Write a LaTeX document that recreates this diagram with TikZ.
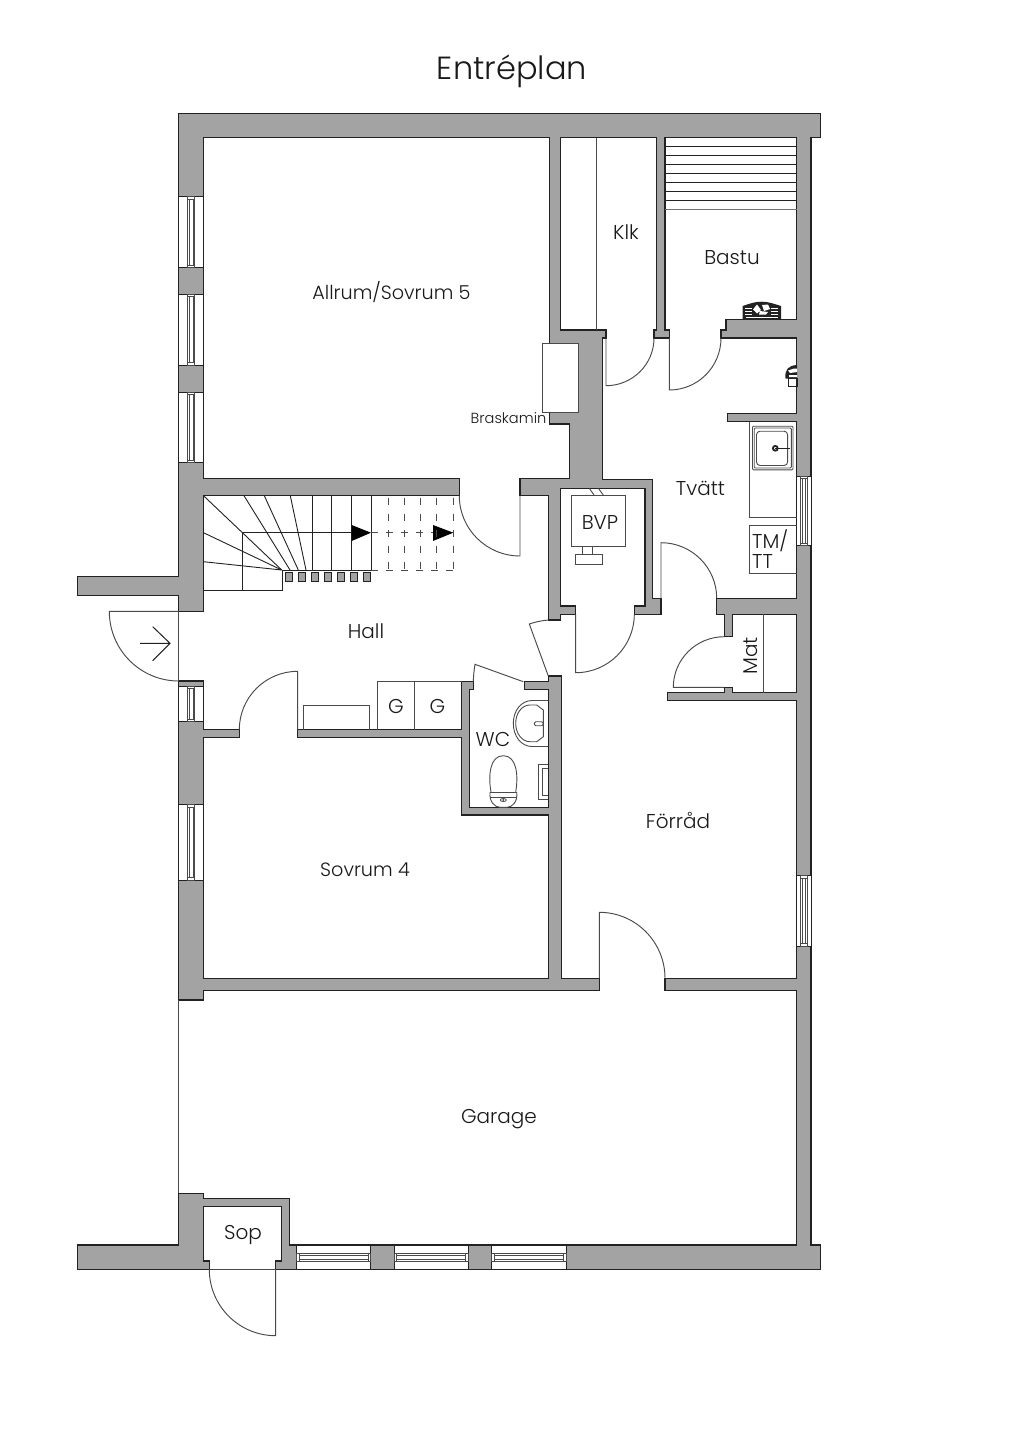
\documentclass[tikz,border=0pt]{standalone}
\usepackage{fontspec}
\setmainfont{Poppins}[UprightFont=* Light]
\usetikzlibrary{calc}
\definecolor{wallc}{HTML}{A3A3A3}
\definecolor{inkc}{HTML}{222222}
\definecolor{thinc}{HTML}{4A4A4A}
\newcommand{\doorswing}[6]{\draw[doorline] (#1,#2) -- (#3,#4) .. controls ({#3+0.5523*(#5-#1)},{#4+0.5523*(#6-#2)}) and ({#5+0.5523*(#3-#1)},{#6+0.5523*(#4-#2)}) .. (#5,#6);}
\newcommand{\winV}[3]{\begin{scope}[shift={(#1,0)}]
\draw[winframe] (0,#2) rectangle (24.8,#3);
\draw[winglass] (8.7,#2) rectangle (16.1,#3);
\draw[winglass] (10.6,{#2+2.5}) rectangle (14.2,{#3-2.5});
\draw[winglass] (8.7,{#2+2.5}) -- (16.1,{#2+2.5}) (8.7,{#3-2.5}) -- (16.1,{#3-2.5});
\end{scope}}
\newcommand{\winR}[2]{\begin{scope}[shift={(796.7,0)}]
\draw[winframe] (0,#1) rectangle (14.3,#2);
\draw[winglass] (3.3,#1) rectangle (11,#2);
\draw[winglass] (5.2,{#1+2.5}) rectangle (9.1,{#2-2.5});
\draw[winglass] (3.3,{#1+2.5}) -- (11,{#1+2.5}) (3.3,{#2-2.5}) -- (11,{#2-2.5});
\end{scope}}
\newcommand{\winH}[2]{\begin{scope}[shift={(0,1245)}]
\draw[winframe] (#1,0) rectangle (#2,24.3);
\draw[winglass] (#1,8.3) rectangle (#2,16);
\draw[winglass] ({#1+2.5},10.2) rectangle ({#2-2.5},14.1);
\draw[winglass] ({#1+2.5},8.3) -- ({#1+2.5},16) ({#2-2.5},8.3) -- ({#2-2.5},16);
\end{scope}}
\tikzset{
  wallshape/.style={fill=wallc,draw=inkc,line width=1.1pt,line join=miter},
  doorline/.style={draw=thinc,line width=0.95pt},
  fixture/.style={draw=thinc,line width=0.9pt},
  winframe/.style={draw=inkc,line width=0.9pt,fill=white},
  winglass/.style={draw=thinc,line width=0.7pt},
  stairline/.style={draw=inkc,line width=0.9pt},
  stairdash/.style={draw=thinc,line width=0.9pt,dash pattern=on 7pt off 8pt},
  stairdashv/.style={draw=thinc,line width=0.9pt,dash pattern=on 7pt off 9pt},
  lbl/.style={font=\fontsize{20}{22}\selectfont,text=black!90,inner sep=0pt},
  lbltm/.style={font=\fontsize{20}{20}\selectfont,text=black!90,inner sep=0pt},
  lblw/.style={font=\fontsize{19.2}{22}\selectfont,text=black!90,inner sep=0pt},
  lbls/.style={font=\fontsize{14.6}{17}\selectfont,text=black!90,inner sep=0pt},
  lbltitle/.style={font=\fontsize{32}{36}\selectfont,text=black!90,inner sep=0pt},
}
\begin{document}
\begin{tikzpicture}[x=1pt,y=-1pt]
\useasboundingbox (0,0) rectangle (1024,1448);
\fill[white] (0,0) rectangle (1024,1448);

% main wall mass (top, right, Allrum, centre, stub)
\draw[wallshape] (178.7,113.3) -- (820.7,113.3) -- (820.7,137.7) -- (811,137.7) -- (811,1245) -- (820.7,1245) -- (820.7,1269.3)
 -- (275.7,1269.3) -- (275.7,1261) -- (281.7,1261) -- (281.7,1206.7) -- (203.3,1206.7) -- (203.3,1261) -- (209.3,1261) -- (209.3,1269.3)
 -- (77.3,1269.3) -- (77.3,1245) -- (178.7,1245) -- (178.7,1193.3) -- (203.3,1193.3) -- (203.3,1198.7) -- (289.3,1198.7) -- (289.3,1245)
 -- (796.7,1245) -- (796.7,990.7) -- (665,990.7) -- (665,978.3) -- (796.7,978.3)
 -- (796.7,700.7) -- (667.3,700.7) -- (667.3,692.7) -- (724.3,692.7) -- (724.3,687.3) -- (732.3,687.3) -- (732.3,692.7) -- (796.7,692.7)
 -- (796.7,614.3) -- (732.3,614.3) -- (732.3,636.7) -- (724.3,636.7) -- (724.3,614.3) -- (716.7,614.3) -- (716.7,598.3) -- (796.7,598.3)
 -- (796.7,421.7) -- (727.3,421.7) -- (727.3,413.3) -- (796.7,413.3) -- (796.7,338) -- (721,338) -- (721,330) -- (726,330) -- (726,319.3) -- (796.7,319.3)
 -- (796.7,137.7) -- (665,137.7) -- (665,330) -- (669.3,330) -- (669.3,338) -- (654,338) -- (654,330) -- (656.7,330) -- (656.7,137.7)
 -- (560.7,137.7) -- (560.7,330) -- (606,330) -- (606,338) -- (602.7,338) -- (602.7,479.3) -- (652.7,479.3) -- (652.7,598.3) -- (661,598.3) -- (661,614.3)
 -- (634.3,614.3) -- (634.3,606) -- (645,606) -- (645,488.3) -- (560.7,488.3) -- (560.7,606) -- (575.7,606) -- (575.7,614.3) -- (560.7,614.3) -- (560.7,620)
 -- (548.3,620) -- (548.3,495.7) -- (520,495.7) -- (520,478.3) -- (569.3,478.3) -- (569.3,424) -- (549.3,424) -- (549.3,137.7)
 -- (203.5,137.7) -- (203.5,478.3) -- (459.3,478.3) -- (459.3,495.7) -- (203.5,495.7) -- (203.5,611.3) -- (178.7,611.3)
 -- (178.7,595.7) -- (77.3,595.7) -- (77.3,576.7) -- (178.7,576.7) -- cycle;

% lower-left wall mass (Sovrum 4, WC)
\draw[wallshape] (178.7,681) -- (203.5,681) -- (203.5,729.7) -- (239.3,729.7) -- (239.3,737.7) -- (203.5,737.7) -- (203.5,978.3) -- (548.3,978.3) -- (548.3,815) -- (461.7,815) -- (461.7,737.7) -- (297.7,737.7) -- (297.7,729.7) -- (461.7,729.7) -- (461.7,681.7) -- (473.3,681.7) -- (473.3,689.3) -- (469.3,689.3) -- (469.3,807.3) -- (548.3,807.3) -- (548.3,689.3) -- (524.3,689.3) -- (524.3,681.7) -- (548.3,681.7) -- (548.3,676) -- (561.7,676) -- (561.7,978.3) -- (599.3,978.3) -- (599.3,990.7) -- (203.5,990.7) -- (203.5,1000) -- (178.7,1000) -- cycle;

% garage open edge, thresholds
\draw[doorline] (178.7,1000) -- (178.7,1193.3);
\draw[doorline] (178.7,611.3) -- (178.7,681);
\draw[doorline] (209.3,1269.3) -- (275.7,1269.3);

% windows
\winV{178.7}{196.7}{267.7}
\winV{178.7}{294.3}{365.3}
\winV{178.7}{392.3}{462.7}
\winV{178.7}{686}{721.7}
\winV{178.7}{804.7}{880}
\winR{476}{545.7}
\winR{875.7}{946}
\winH{296.7}{370.7}
\winH{394.3}{468.3}
\winH{491.7}{566}

% fireplace
\draw[fixture,fill=white] (542,343.3) rectangle (578,412.9);

% doors
\doorswing{606}{338}{606}{385.7}{654}{338}
\doorswing{669.3}{338}{669.3}{390}{721}{338}
\doorswing{520}{495.7}{520}{556}{459.3}{495.7}
\doorswing{661}{598.3}{661}{542.7}{716.7}{598.3}
\doorswing{575.7}{614.3}{575.7}{672.7}{634.3}{614.3}
\doorswing{724.3}{687.3}{673.3}{687.3}{724.3}{636.7}
\doorswing{178.7}{611.3}{109.3}{611.3}{178.7}{681}
\doorswing{297.7}{729.7}{297.7}{671.3}{239.3}{729.7}
\doorswing{599.3}{978.3}{599.3}{912.3}{665}{978.3}
\doorswing{275.7}{1269.3}{275.7}{1335.7}{209.3}{1269.3}
\draw[doorline] (548.3,676) -- (529.3,624) .. controls (535,622) and (542,620.5) .. (548.3,620);
\draw[doorline] (523.3,681.7) -- (475,664.3) .. controls (474,670) and (473.5,676) .. (473.3,681.7);

% Klk partition, Mat partition
\draw[fixture] (596,137.7) -- (596,330);
\draw[fixture] (763.3,614.3) -- (763.3,692.7);

% Bastu benches
\foreach \yy in {146.7,155.3,164.3,173.3,182,191,200}{\draw[fixture,draw=inkc] (665,\yy) -- (796.7,\yy);}
\draw[fixture,draw=black!55] (665,209) -- (796.7,209);

% Bastu stove
\fill[inkc] (742.6,319.3) -- (742.6,306) .. controls (750,303.5) and (755,301.7) .. (761.5,301.7) .. controls (768,301.7) and (773,303.5) .. (781,306) -- (781,319.3) -- cycle;
\draw[white,line width=0.7pt] (745,308) -- (752,308) (745,311) -- (752,311) (745,314) -- (752,314) (771,308) -- (778,308) (771,311) -- (778,311) (771,314) -- (778,314) (746,317) -- (778,317);
\fill[white] (753,309.5) -- (757,304.5) -- (761,310) -- (757,313.5) -- cycle (762,305) -- (768,304.5) -- (770,309) -- (764,311) -- cycle (760,311) -- (768,312) -- (766,314.5) -- (759,314.5) -- cycle;

% wall-mounted tap, Tvatt
\fill[inkc] (785.5,378.5) .. controls (784.5,370) and (788,365.5) .. (797,365) -- (797,378.5) -- cycle;
\fill[white] (788,370.5) -- (794,368.5) -- (797,368.5) -- (797,372) -- (790,373) -- cycle (789,375) -- (797,375) -- (797,377) -- (789,377) -- cycle;
\draw[inkc,line width=1.1pt,fill=white] (788.5,378.5) rectangle (797,386.4);

% sink
\draw[fixture] (749,421.7) -- (749,517.3) -- (796.7,517.3);
\draw[fixture] (749,525.7) -- (749,573.7) -- (796.7,573.7) (749,525.7) -- (796.7,525.7);
\draw[fixture,rounded corners=1pt] (752.5,426.2) rectangle (793,469.8);
\draw[fixture,rounded corners=1pt] (754.2,428) rectangle (791.3,468);
\draw[fixture,rounded corners=3.5pt] (756.5,431.2) rectangle (787.6,465.5);
\draw[inkc,line width=1.8pt] (775.3,448.3) circle[radius=2.4pt];
\draw[inkc,line width=1.4pt] (775.3,448.3) -- (790,448.3);

% BVP
\draw[fixture] (571.7,495) rectangle (625.7,546);
\draw[fixture] (589.3,488.3) -- (594,495) (598.3,488.3) -- (603.3,495);
\draw[fixture] (582.3,546) -- (582.3,554) (592,546) -- (592,554);
\draw[fixture] (575.7,554) rectangle (602.7,564.3);

% stairs
\draw[stairline] (203.5,495.7) -- (281.7,570) (244,495.7) -- (290,570) (264.3,495.7) -- (298.3,570) (290.3,495.7) -- (306,570);
\draw[stairline] (203.5,532.7) -- (281.7,570) (203.5,561.7) -- (281.7,570);
\foreach \xx in {312.3,331.7,351.3,371}{\draw[stairline] (\xx,495.7) -- (\xx,570);}
\draw[stairline] (281.7,570) -- (371,570);
\draw[stairline] (242.7,532.7) -- (351.7,532.7);
\draw[stairline] (242.7,532.7) -- (242.7,590);
\draw[stairline] (203.5,590) -- (282.7,590) -- (282.7,570);
\fill[black] (351.7,525) -- (371,532.7) -- (351.7,541) -- cycle;
\fill[black] (433,525) -- (453.3,532.7) -- (433,541) -- cycle;
\draw[stairdash] (371,570) -- (453.3,570);
\draw[stairdash] (371,532.7) -- (433,532.7);
\foreach \xx in {388.3,404.3,420.3,436.3,453.3}{\draw[stairdashv] (\xx,497.7) -- (\xx,570);}
\foreach \xx in {285.3,298.3,311.3,324.3,337.3,350.3,363.3}{\draw[fill=wallc,draw=inkc,line width=0.8pt] (\xx,572) rectangle ({\xx+7.4},581);}

% entrance arrow
\draw[inkc,line width=1pt] (140,643.3) -- (170,643.3) (152.7,626.7) -- (170,643.3) -- (152.7,660.7);

% Hall fixtures
\draw[fixture] (303.3,729.7) -- (303.3,705.7) -- (369.3,705.7) -- (369.3,729.7);
\draw[fixture] (377.7,729.7) -- (377.7,681.7) -- (461.7,681.7);
\draw[fixture] (414,681.7) -- (414,729.7);

% WC fixtures
\draw[fixture] (548.3,700.5) -- (532,700.5) .. controls (521,700.5) and (513.3,711) .. (513.3,723.3) .. controls (513.3,736) and (521,746.5) .. (532,746.5) -- (548.3,746.5);
\draw[fixture] (536.7,705) -- (530,705) .. controls (522,705) and (515.7,713) .. (515.7,723.3) .. controls (515.7,733.5) and (522,741.7) .. (530,741.7) -- (536.7,741.7) -- (543.3,736.7) -- (543.3,710) -- cycle;
\draw[fixture,rounded corners=1.5pt] (534.3,721.7) rectangle (543.3,725.7);
\draw[fixture] (491,792) .. controls (488,775) and (490,755.7) .. (503.3,755.7) .. controls (516.6,755.7) and (518.6,775) .. (515.7,792);
\draw[fixture] (490,792) -- (516.7,792) (490,797) -- (516.7,797);
\draw[fixture] (490,792) .. controls (489,802) and (495,807.3) .. (500,807.3) -- (507,807.3) .. controls (512,807.3) and (518,802) .. (516.7,792);
\draw[thinc,line width=0.8pt] (503.3,800) ellipse[x radius=3pt,y radius=1.5pt];
\fill[inkc] (503.3,800) circle[radius=0.9pt];
\draw[fixture] (548.3,764) -- (538.3,764) -- (538.3,799.3) -- (548.3,799.3);
\draw[fixture] (548.3,768.3) -- (542.3,768.3) -- (542.3,795) -- (548.3,795);

% labels
\node[lbltitle] (title) at (512,71) {Entréplan};
\node[lblw] (allrum) at (391.5,292.5) {Allrum/Sovrum 5};
\node[lbls] (braskamin) at (508.5,418) {Braskamin};
\node[lbl] (klk) at (626,232.5) {Klk};
\node[lbl] (bastu) at (732,258) {Bastu};
\node[lbl] (tvatt) at (700.5,488) {Tvätt};
\node[lbl] (bvp) at (600,523) {BVP};
\node[lbltm,anchor=west,align=left] (tmtt) at (752,549.5) {TM/\\TT};
\node[lbl,rotate=90] (mat) at (751,656) {Mat};
\node[lbl] (hall) at (366,631) {Hall};
\node[lbl] (g1) at (396,706) {G};
\node[lbl] (g2) at (437.5,706) {G};
\node[lbl] (wc) at (493,739) {WC};
\node[lbl] (forrad) at (678,820.5) {Förråd};
\node[lblw] (sovrum) at (365,870) {Sovrum 4};
\node[lbl] (garage) at (499,1119) {Garage};
\node[lbl] (sop) at (243,1235) {Sop};
\end{tikzpicture}
\end{document}
